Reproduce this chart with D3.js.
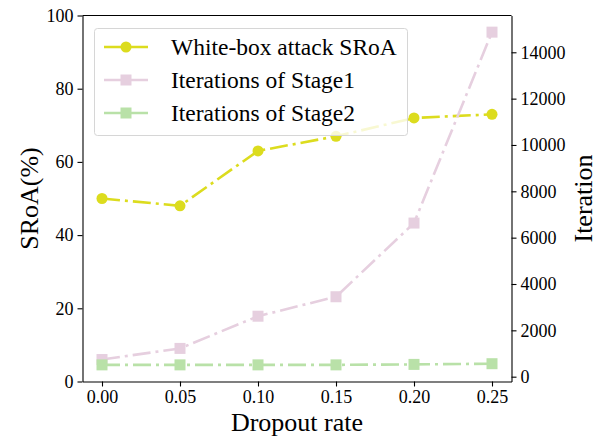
<!DOCTYPE html>
<meta charset="utf-8">
<style>
  body { margin: 0; background: #fff; }
  .axis path, .axis line { stroke: #000; stroke-width: 1.1px; }
  .line { fill: none; stroke-width: 2.6px; stroke-dasharray: 18 5 3 5; }
</style>
<body>
<script src="https://cdn.jsdelivr.net/npm/d3@7"></script>
<script>

  // dropout rates on x
  var rates = [0.00, 0.05, 0.10, 0.15, 0.20, 0.25];
  // left axis: SRoA (%)
  var sroa = [50, 48, 63, 67, 72, 73];
  // right axis: iterations
  var stage1 = [740, 1220, 2610, 3450, 6630, 14870];
  var stage2 = [510, 510, 510, 510, 530, 560];

  var xTicks = [0.00, 0.05, 0.10, 0.15, 0.20, 0.25];
  var leftTicks = [0, 20, 40, 60, 80, 100];
  var rightTicks = [0, 2000, 4000, 6000, 8000, 10000, 12000, 14000];

  var series = [
    { name: "White-box attack SRoA", values: sroa, color: "#dcdc1e", shape: "circle", axis: "left" },
    { name: "Iterations of Stage1", values: stage1, color: "#e6cfdf", shape: "square", axis: "right" },
    { name: "Iterations of Stage2", values: stage2, color: "#b9e1a8", shape: "square", axis: "right" }
  ];

  var FONT = "'Liberation Serif', 'Times New Roman', Times, serif";
  var width = 600, height = 438;
  var plot = { left: 82.5, right: 511.5, top: 15.5, bottom: 381.5 };

  var svg = d3.select("body").append("svg")
    .attr("width", width)
    .attr("height", height)
    .style("font-family", FONT);

  // matplotlib-ish 5% margins
  var xPad = (d3.max(rates) - d3.min(rates)) * 0.05;
  var x = d3.scaleLinear()
    .domain([d3.min(rates) - xPad, d3.max(rates) + xPad])
    .range([plot.left, plot.right]);

  var yL = d3.scaleLinear().domain([0, 100]).range([plot.bottom, plot.top]);

  var iterAll = stage1.concat(stage2);
  var rMin = d3.min(iterAll), rMax = d3.max(iterAll), rPad = (rMax - rMin) * 0.05;
  var yR = d3.scaleLinear().domain([rMin - rPad, rMax + rPad]).range([plot.bottom, plot.top]);

  // axes
  var gx = svg.append("g")
    .attr("class", "axis")
    .attr("transform", "translate(0," + plot.bottom + ")")
    .call(d3.axisBottom(x).tickValues(xTicks).tickFormat(d3.format(".2f")).tickSize(5).tickSizeOuter(0));
  var gl = svg.append("g")
    .attr("class", "axis")
    .attr("transform", "translate(" + plot.left + ",0)")
    .call(d3.axisLeft(yL).tickValues(leftTicks).tickSize(5).tickSizeOuter(0));
  var gr = svg.append("g")
    .attr("class", "axis")
    .attr("transform", "translate(" + plot.right + ",0)")
    .call(d3.axisRight(yR).tickValues(rightTicks).tickFormat(d3.format("d")).tickSize(5).tickSizeOuter(0));
  svg.selectAll(".axis").attr("font-family", null).attr("font-size", null);
  svg.selectAll(".axis text").style("font-size", "18px").style("font-family", FONT).attr("fill", "#000");
  gx.selectAll("text").attr("y", 9).attr("dy", "0.71em");
  gl.selectAll("text").attr("x", -9);
  gr.selectAll("text").attr("x", 9);

  // top spine
  svg.append("line")
    .attr("x1", plot.left).attr("x2", plot.right)
    .attr("y1", plot.top).attr("y2", plot.top)
    .attr("stroke", "#000").attr("stroke-width", 1.1);

  // axis labels
  svg.append("text")
    .attr("x", (plot.left + plot.right) / 2).attr("y", 431)
    .attr("text-anchor", "middle").style("font-size", "26px")
    .text("Dropout rate");
  svg.append("text")
    .attr("transform", "translate(38," + (plot.top + plot.bottom) / 2 + ") rotate(-90)")
    .attr("text-anchor", "middle").style("font-size", "26px")
    .text("SRoA(%)");
  svg.append("text")
    .attr("transform", "translate(592," + (plot.top + plot.bottom) / 2 + ") rotate(-90)")
    .attr("text-anchor", "middle").style("font-size", "26px")
    .text("Iteration");

  function drawMarker(g, shape, color, cx, cy) {
    if (shape === "circle") {
      g.append("circle").attr("cx", cx).attr("cy", cy).attr("r", 5.5).attr("fill", color);
    } else {
      g.append("rect").attr("x", cx - 5.5).attr("y", cy - 5.5)
        .attr("width", 11).attr("height", 11).attr("fill", color);
    }
  }

  var marks = svg.append("g");
  series.forEach(function (s) {
    var y = s.axis === "left" ? yL : yR;
    var line = d3.line()
      .x(function (d, i) { return x(rates[i]); })
      .y(function (d) { return y(d); });
    marks.append("path")
      .datum(s.values)
      .attr("class", "line")
      .attr("stroke", s.color)
      .attr("d", line);
    s.values.forEach(function (v, i) {
      drawMarker(marks, s.shape, s.color, x(rates[i]), y(v));
    });
  });

  // legend
  var lg = svg.append("g");
  lg.append("rect")
    .attr("x", 94.5).attr("y", 28.5).attr("width", 313).attr("height", 107)
    .attr("rx", 3).attr("fill", "#fff").attr("fill-opacity", 0.8)
    .attr("stroke", "#d6d6d6").attr("stroke-width", 1);
  series.forEach(function (s, i) {
    var cy = 47 + i * 33;
    lg.append("line")
      .attr("x1", 104).attr("x2", 148).attr("y1", cy).attr("y2", cy)
      .attr("stroke", s.color).attr("stroke-width", 2.6);
    drawMarker(lg, s.shape, s.color, 126, cy);
    lg.append("text")
      .attr("x", 171).attr("y", cy).attr("dy", "0.35em")
      .style("font-size", "23.5px")
      .text(s.name);
  });

</script>
</body>
